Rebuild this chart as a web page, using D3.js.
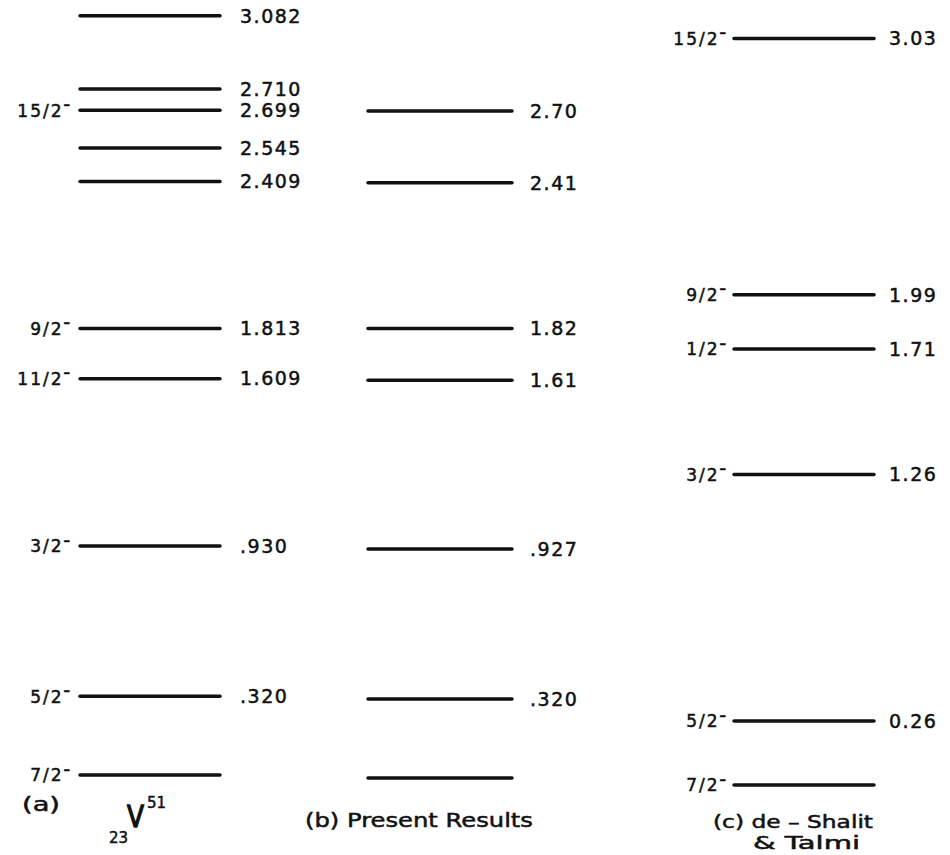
<!DOCTYPE html>
<html>
<head>
<meta charset="utf-8">
<script src="https://cdn.jsdelivr.net/npm/d3@7"></script>
<style>
  body { margin: 0; background: #fff; }
  svg text { font-family: "DejaVu Sans", sans-serif; fill: #111; stroke: #111; stroke-width: 0.5px; }
</style>
</head>
<body>
<div id="chart"></div>
<script>
// (a) measured levels of 23V51
const energiesA = [0, 0.320, 0.930, 1.609, 1.813, 2.409, 2.545, 2.699, 2.710, 3.082];
const drawnA    = [0, 0.320, 0.930, 1.609, 1.813, 2.409, 2.545, 2.699, 2.785, 3.082]; // 2.710 spread for legibility
const labelsA   = ["", ".320", ".930", "1.609", "1.813", "2.409", "2.545", "2.699", "2.710", "3.082"];
const spinsA    = ["7/2", "5/2", "3/2", "11/2", "9/2", "", "", "15/2", "", ""];

// (b) present results
const energiesB = [0, 0.320, 0.927, 1.61, 1.82, 2.41, 2.70];
const labelsB   = ["", ".320", ".927", "1.61", "1.82", "2.41", "2.70"];

// (c) de-Shalit & Talmi
const energiesC = [0, 0.26, 1.26, 1.71, 1.99, 3.03];
const drawnC    = [0, 0.26, 1.26, 1.77, 1.99, 3.03];
const labelsC   = ["", "0.26", "1.26", "1.71", "1.99", "3.03"];
const spinsC    = ["7/2", "5/2", "3/2", "1/2", "9/2", "15/2"];

const width = 950, height = 855;

const svg = d3.select('#chart')
    .append('svg')
        .attr('width', width)
        .attr('height', height)
        .style('background', '#fff');

// one scale per column, the scan is slightly tilted
const columns = [
    { id: 'a', x1: 80, x2: 220, labelX: 240, spinX: 72,
      y: d3.scaleLinear().domain([0, 3]).range([775, 36]),
      rows: energiesA.map((e, i) => ({ e, drawn: drawnA[i], label: labelsA[i], spin: spinsA[i] })) },
    { id: 'b', x1: 368, x2: 512, labelX: 530, spinX: 0,
      y: d3.scaleLinear().domain([0, 3]).range([778, 37]),
      rows: energiesB.map((e, i) => ({ e, drawn: e, label: labelsB[i], spin: '' })) },
    { id: 'c', x1: 734, x2: 874, labelX: 889, spinX: 728,
      y: d3.scaleLinear().domain([0, 3]).range([785, 46]),
      rows: energiesC.map((e, i) => ({ e, drawn: drawnC[i], label: labelsC[i], spin: spinsC[i] })) }
];

const col = svg.selectAll('g.column')
    .data(columns)
    .join('g')
        .attr('class', d => `column col-${d.id}`);

col.each(function(c) {
    const g = d3.select(this);

    g.selectAll('line.level')
        .data(c.rows)
        .join('line')
            .attr('class', 'level')
            .attr('x1', c.x1)
            .attr('x2', c.x2)
            .attr('y1', d => c.y(d.drawn))
            .attr('y2', d => c.y(d.drawn))
            .attr('stroke', '#111')
            .attr('stroke-width', 3.5)
            .attr('stroke-linecap', 'round');

    g.selectAll('text.energy')
        .data(c.rows.filter(d => d.label))
        .join('text')
            .attr('class', 'energy')
            .attr('x', c.labelX)
            .attr('y', d => c.y(d.drawn))
            .attr('dy', '0.36em')
            .style('font-size', '19px')
            .style('letter-spacing', '1.5px')
            .text(d => d.label);

    const spin = g.selectAll('text.spin')
        .data(c.rows.filter(d => d.spin))
        .join('text')
            .attr('class', 'spin')
            .attr('x', c.spinX)
            .attr('y', d => c.y(d.drawn))
            .attr('dy', '0.38em')
            .attr('text-anchor', 'end')
            .style('font-size', '17px')
            .style('letter-spacing', '2px');
    spin.append('tspan').text(d => d.spin);
    spin.append('tspan')
        .attr('dy', '-0.6em')
        .style('font-size', '13px')
        .style('font-weight', 'bold')
        .text('\u2013');
});

// captions
const captions = svg.append('g').attr('class', 'captions');

captions.append('text')
    .attr('x', 22).attr('y', 811)
    .style('font-size', '19px')
    .attr('textLength', 38).attr('lengthAdjust', 'spacingAndGlyphs')
    .text('(a)');

captions.append('text')
    .attr('x', 127).attr('y', 827)
    .style('font-size', '31px')
    .style('stroke-width', '1.4px')
    .attr('textLength', 17).attr('lengthAdjust', 'spacingAndGlyphs')
    .text('V');
captions.append('text')
    .attr('x', 109).attr('y', 843)
    .style('font-size', '15px')
    .text('23');
captions.append('text')
    .attr('x', 147).attr('y', 808)
    .style('font-size', '15px')
    .text('51');

captions.append('text')
    .attr('x', 305).attr('y', 827)
    .style('font-size', '20px')
    .attr('textLength', 228).attr('lengthAdjust', 'spacingAndGlyphs')
    .text('(b) Present  Results');

captions.append('text')
    .attr('x', 713).attr('y', 828)
    .style('font-size', '18px')
    .attr('textLength', 160).attr('lengthAdjust', 'spacingAndGlyphs')
    .text('(c) de \u2013 Shalit');
captions.append('text')
    .attr('x', 753).attr('y', 849)
    .style('font-size', '18px')
    .attr('textLength', 107).attr('lengthAdjust', 'spacingAndGlyphs')
    .text('& Talmi');
</script>
</body>
</html>
